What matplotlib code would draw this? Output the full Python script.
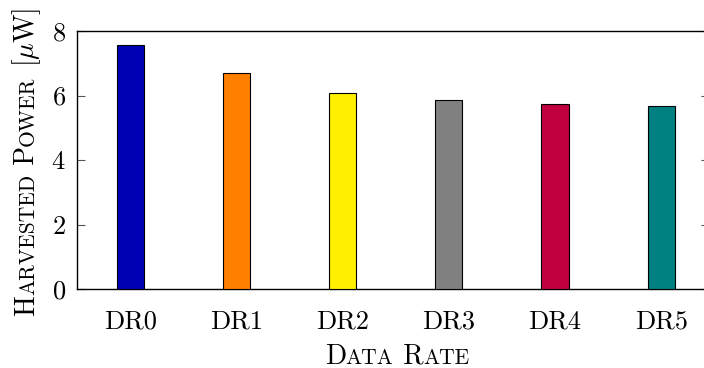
import matplotlib
matplotlib.use("Agg")
import matplotlib.pyplot as plt

plt.rcParams['font.family'] = 'cmr10'
plt.rcParams['mathtext.fontset'] = 'cm'
plt.rcParams['axes.formatter.use_mathtext'] = True

categories = ['DR0', 'DR1', 'DR2', 'DR3', 'DR4', 'DR5']
power = [7.57, 6.69, 6.09, 5.87, 5.75, 5.68]
colors = ['#0000B4', '#FF8000', '#FFF000', '#808080', '#C0003F', '#008080']
yticks = [0, 2, 4, 6, 8]

W, H = 704, 368
fig = plt.figure(figsize=(W / 100, H / 100), dpi=100)
ax = fig.add_axes([77 / W, (H - 289) / H, (709 - 77) / W, (289 - 31) / H])

x = list(range(len(categories)))
ax.bar(x, power, width=0.255, color=colors, edgecolor='black', linewidth=0.8, zorder=3)
ax.set_xlim(-0.5, 5.45)
ax.set_ylim(0, 8)
ax.set_xticks(x)
ax.set_xticklabels(categories)
ax.set_yticks(yticks)
ax.tick_params(axis='x', length=0, labelsize=19, pad=15)
ax.tick_params(axis='y', direction='in', length=6, width=0.8, color='#555555',
               right=True, labelsize=19, pad=8)
for s in ax.spines.values():
    s.set_linewidth(1.0)


def small_caps(text):
    # split into (piece, is_small) runs, lowercase -> smaller capitals
    runs = []
    for ch in text:
        small = ch.islower()
        c = ch.upper() if small else ch
        if runs and runs[-1][1] == small:
            runs[-1][0] += c
        else:
            runs.append([c, small])
    return runs


def draw_label(text, px, py, big, small, vertical=False, tail=None):
    renderer = fig.canvas.get_renderer()
    pieces = [(p, small if s else big) for p, s in small_caps(text)]
    if tail:
        pieces.append((tail, big))
    widths = []
    for p, sz in pieces:
        t = fig.text(0, 0, p, size=sz)
        widths.append(t.get_window_extent(renderer).width)
        t.remove()
    pos = -sum(widths) / 2
    for (p, sz), w in zip(pieces, widths):
        if vertical:
            fig.text(px / W, (H - py + pos) / H, p, size=sz, rotation=90,
                     rotation_mode='anchor', ha='left', va='baseline')
        else:
            fig.text((px + pos) / W, (H - py) / H, p, size=sz,
                     ha='left', va='baseline')
        pos += w


draw_label('Data Rate', 397, 364, 20, 15.5)
draw_label('Harvested Power ', 34, 162, 20, 15.5, vertical=True, tail=r'[$\mu$W]')

fig.savefig('out.png', dpi=100)
